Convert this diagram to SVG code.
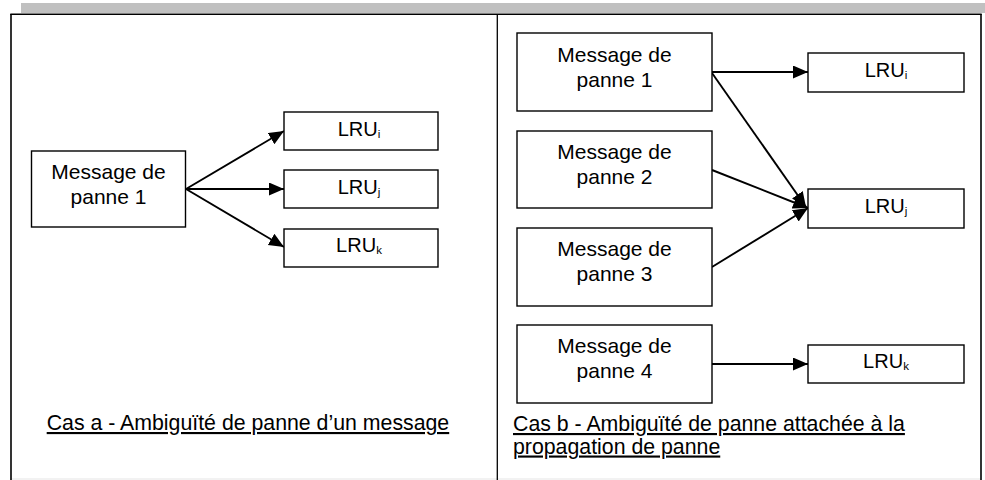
<svg xmlns="http://www.w3.org/2000/svg" width="985" height="480" viewBox="0 0 985 480">
<style>
.box{fill:#fff;stroke:#000;stroke-width:1.4}
.t{font-family:"Liberation Sans",Arial,sans-serif;font-size:21px;fill:#000;text-anchor:middle}
.l{font-family:"Liberation Sans",Arial,sans-serif;font-size:20px;fill:#000;text-anchor:middle}
.s{font-size:11.5px}
.cap{font-family:"Liberation Sans",Arial,sans-serif;font-size:21.3px;fill:#000;text-decoration:underline}
.c{stroke:#000;stroke-width:1.9;fill:none;marker-end:url(#ah)}
</style>
<defs>
<marker id="ah" markerUnits="userSpaceOnUse" markerWidth="16" markerHeight="14" refX="15" refY="6.5" orient="auto">
<path d="M0,0 L15,6.5 L0,13 z" fill="#000"/>
</marker>
</defs>
<rect width="985" height="480" fill="#fff"/>
<rect x="21" y="3" width="964" height="10" fill="#c0c0c0"/>
<g id="frame">
<line x1="11" y1="479" x2="981" y2="479" stroke="#e6e6e6" stroke-width="1.2"/>
<line x1="10.3" y1="14.2" x2="981.7" y2="14.2" stroke="#000" stroke-width="1.6"/>
<line x1="11" y1="14" x2="11" y2="480" stroke="#000" stroke-width="1.6"/>
<line x1="981" y1="14" x2="981" y2="480" stroke="#000" stroke-width="1.6"/>
<line x1="497.3" y1="14" x2="497.3" y2="480" stroke="#000" stroke-width="1.3"/>
</g>
<g id="connectors">
<line class="c" x1="186" y1="189" x2="284" y2="131"/>
<line class="c" x1="186" y1="189" x2="284" y2="189"/>
<line class="c" x1="186" y1="189" x2="284" y2="247"/>
<line class="c" x1="712" y1="72" x2="808" y2="72"/>
<line class="c" x1="712" y1="73" x2="806" y2="207"/>
<line class="c" x1="712" y1="170" x2="808" y2="208"/>
<line class="c" x1="712" y1="267" x2="808" y2="208"/>
<line class="c" x1="712" y1="364" x2="808" y2="364"/>
</g>
<g id="a-msg1">
<rect class="box" x="31.5" y="151" width="154" height="76"/>
<text class="t" x="108.5" y="178.5">Message de</text>
<text class="t" x="108.5" y="203.5">panne 1</text>
</g>
<g id="a-lrui">
<rect class="box" x="284" y="112" width="154" height="38"/>
<text class="l" x="359" y="135.5">LRU<tspan class="s" dy="2">i</tspan></text>
</g>
<g id="a-lruj">
<rect class="box" x="284" y="170" width="154" height="38"/>
<text class="l" x="359" y="193.5">LRU<tspan class="s" dy="2">j</tspan></text>
</g>
<g id="a-lruk">
<rect class="box" x="284" y="229" width="154" height="38"/>
<text class="l" x="359" y="252">LRU<tspan class="s" dy="2">k</tspan></text>
</g>
<g id="b-msg1">
<rect class="box" x="517" y="33" width="195" height="78"/>
<text class="t" x="614.5" y="61.5">Message de</text>
<text class="t" x="614.5" y="86.5">panne 1</text>
</g>
<g id="b-msg2">
<rect class="box" x="517" y="131" width="195" height="77"/>
<text class="t" x="614.5" y="159">Message de</text>
<text class="t" x="614.5" y="184">panne 2</text>
</g>
<g id="b-msg3">
<rect class="box" x="517" y="228" width="195" height="78"/>
<text class="t" x="614.5" y="256">Message de</text>
<text class="t" x="614.5" y="281">panne 3</text>
</g>
<g id="b-msg4">
<rect class="box" x="517" y="325" width="195" height="78"/>
<text class="t" x="614.5" y="353">Message de</text>
<text class="t" x="614.5" y="378">panne 4</text>
</g>
<g id="b-lrui">
<rect class="box" x="808" y="53" width="156" height="39"/>
<text class="l" x="886" y="76.5">LRU<tspan class="s" dy="2">i</tspan></text>
</g>
<g id="b-lruj">
<rect class="box" x="808" y="189" width="156" height="39"/>
<text class="l" x="886" y="212.5">LRU<tspan class="s" dy="2">j</tspan></text>
</g>
<g id="b-lruk">
<rect class="box" x="808" y="345" width="156" height="38"/>
<text class="l" x="886" y="368">LRU<tspan class="s" dy="2">k</tspan></text>
</g>
<g id="captions">
<text class="cap" x="46.7" y="430">Cas a - Ambiguïté de panne d’un message</text>
<text class="cap" x="513" y="431">Cas b - Ambiguïté de panne attachée à la</text>
<text class="cap" x="513" y="453.5">propagation de panne</text>
</g>
</svg>
